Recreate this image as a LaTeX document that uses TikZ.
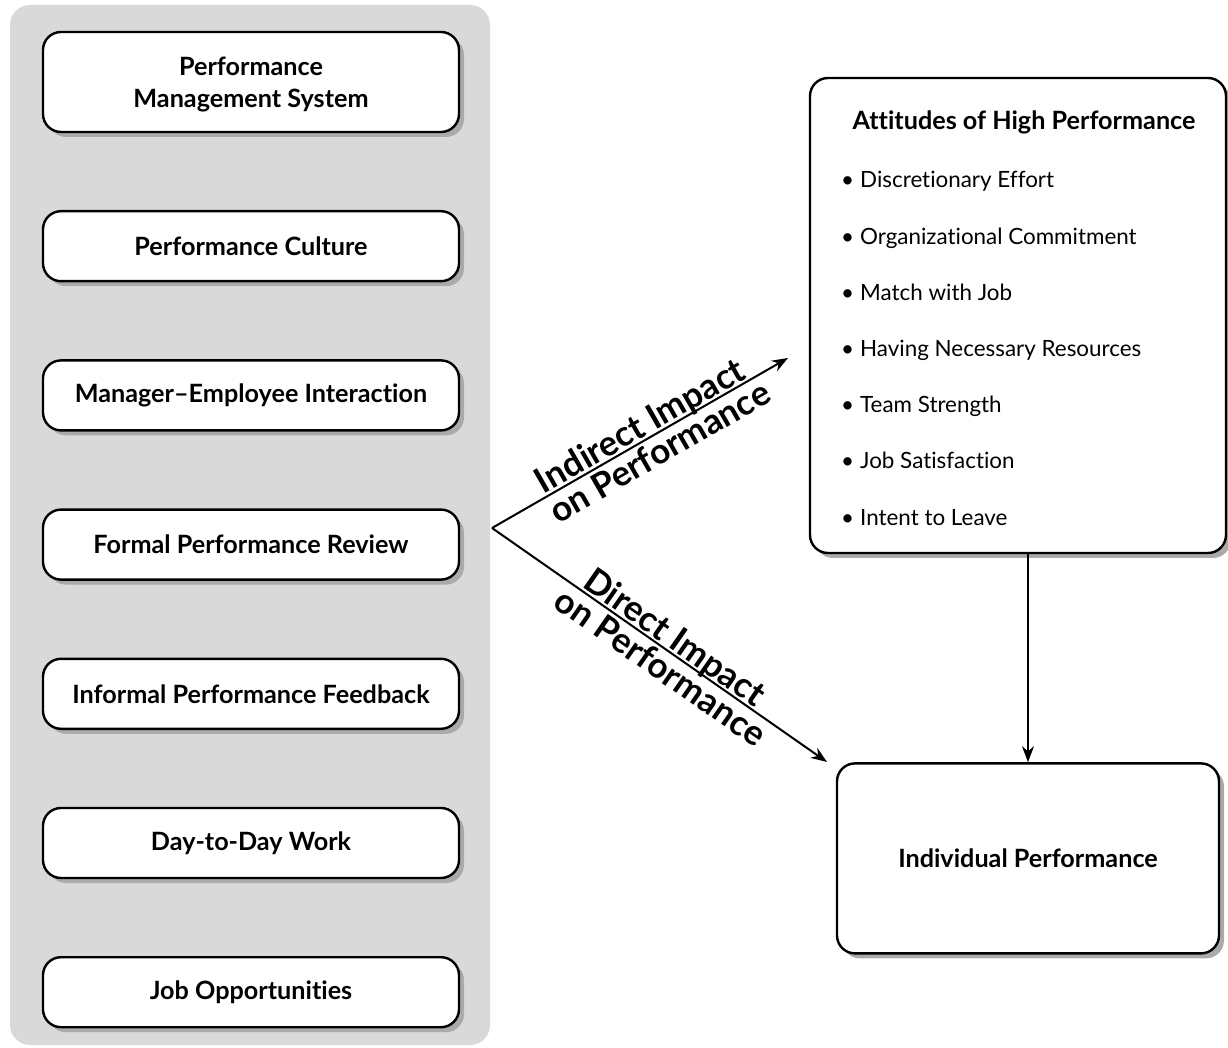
\documentclass[tikz,border=0pt]{standalone}
\usepackage{fontspec}
\setmainfont{Lato}[Ligatures={TeX,NoCommon}]
\usetikzlibrary{positioning, shadows, arrows.meta}
\definecolor{panel}{HTML}{D9D9D9}
\definecolor{shade}{HTML}{AAAAAA}

\begin{document}
\begin{tikzpicture}[x=0.5pt, y=-0.5pt, node distance=38.4pt, line width=1.2pt,
    box/.style = {draw, fill=white, rounded corners=9pt, minimum width=208pt, minimum height=35pt, align=center,
      font=\bfseries\fontsize{12.6}{16}\selectfont,
      drop shadow={shadow xshift=2.5pt, shadow yshift=-2.5pt, fill=shade, opacity=1}},
    item/.style = {anchor=base west, inner sep=0pt, font=\fontsize{11.2}{14}\selectfont},
    link/.style = {line width=1pt, -{Stealth[length=8pt, width=6pt]}},
    tag/.style = {sloped, font=\bfseries\fontsize{17.5}{20}\selectfont},
    tagup/.style = {tag, above, inner sep=0pt, text depth=1pt},
    tagdown/.style = {tag, below, inner sep=1.5pt}]
    \useasboundingbox (0,0) rectangle (1228,1048);
    \fill[panel, rounded corners=10pt] (10,5) rectangle (490,1045);
    % left column
    \node[box, minimum height=50pt, text depth=0pt] (1) at (251,82) {Performance\\Management System};
    \node[box] (2) [below=of 1] {Performance Culture};
    \node[box] (3) [below=of 2] {Manager–Employee Interaction};
    \node[box] (4) [below=of 3] {Formal Performance Review};
    \node[box] (5) [below=of 4] {Informal Performance Feedback};
    \node[box] (6) [below=of 5] {Day-to-Day Work};
    \node[box] (7) [below=of 6] {Job Opportunities};
    % right column
    \node[box, minimum height=237.5pt] (att) at (1018,315.5) {};
    \node[box, minimum width=191pt, minimum height=95pt] (ind) [below=104pt of att, xshift=5pt] {Individual Performance};
    \node[anchor=base, inner sep=0pt, font=\bfseries\fontsize{12.6}{16}\selectfont] (head) at (1024,130) {Attitudes of High Performance};
    \foreach \txt [count=\i] in {Discretionary Effort, Organizational Commitment, Match with Job,
      Having Necessary Resources, Team Strength, Job Satisfaction, Intent to Leave}
      \node[item] (a\i) at (840,{188+56.2*(\i-1)}) {•\hspace{3pt}\txt};
    % arrows
    \coordinate (apex) at (492,528);
    \coordinate (up) at (788,358);
    \coordinate (dn) at (827,762);
    \draw[link] (apex) -- node[tagup, pos=0.525] {Indirect Impact} node[tagdown, pos=0.537] {on Performance} (up);
    \draw[link] (apex) -- node[tagup, pos=0.52] {Direct Impact} node[tagdown, pos=0.533] {on Performance} (dn);
    \draw[link] (ind.north |- att.south) -- (ind);
\end{tikzpicture}
\end{document}
